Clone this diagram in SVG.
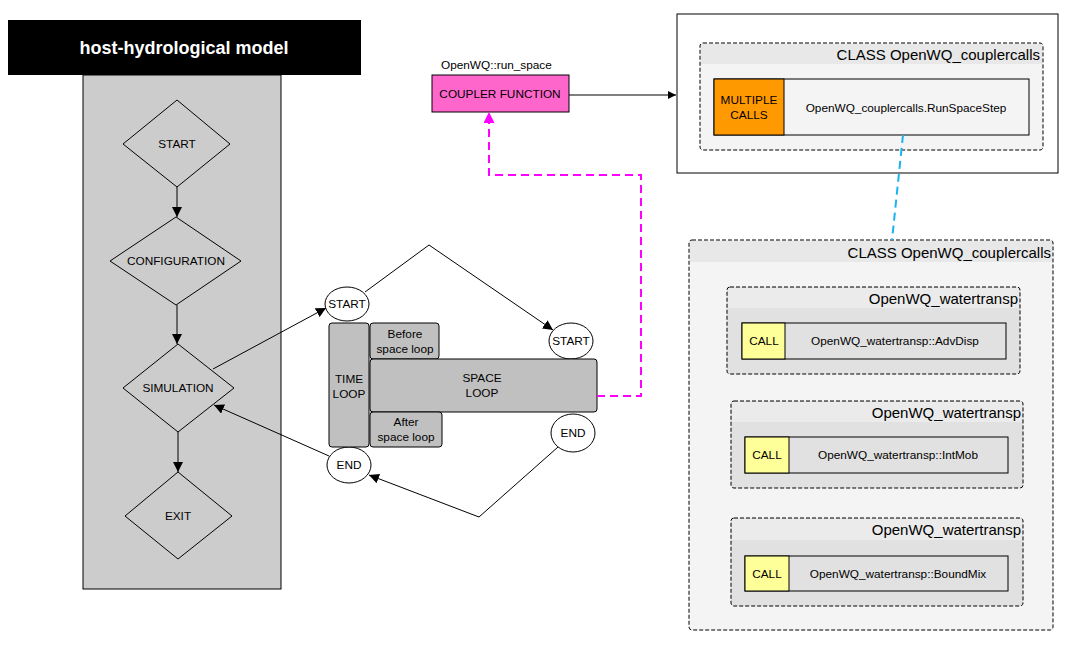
<svg xmlns="http://www.w3.org/2000/svg" width="1076" height="648" viewBox="0 0 1076 648">
<defs>
<marker id="ah" viewBox="0 0 10 10" refX="10" refY="5" markerWidth="10" markerHeight="10" markerUnits="userSpaceOnUse" orient="auto">
<path d="M0,0 L10,5 L0,10 z" fill="#000"/>
</marker>
<marker id="ahm" viewBox="0 0 10 10" refX="10" refY="5" markerWidth="11" markerHeight="11" markerUnits="userSpaceOnUse" orient="auto">
<path d="M0,0 L10,5 L0,10 z" fill="#ff00ff"/>
</marker>
<marker id="ahs" viewBox="0 0 10 10" refX="10" refY="5" markerWidth="8" markerHeight="8" markerUnits="userSpaceOnUse" orient="auto">
<path d="M0,0 L10,5 L0,10 z" fill="#000"/>
</marker>
</defs>
<style>
text{font-family:"Liberation Sans",Arial,sans-serif;fill:#000}
.s{font-size:11.8px}
.t{font-size:15px}
.c{text-anchor:middle}
.r{text-anchor:end}
.dia{fill:none;stroke:#000;stroke-width:1}
.ell{fill:#fff;stroke:#000;stroke-width:1}
.loop{fill:#c0c0c0;stroke:#000;stroke-width:1}
.dash{stroke:#000;stroke-width:1;stroke-dasharray:4,2}
.box{stroke:#000;stroke-width:1}
.ln{fill:none;stroke:#000;stroke-width:1}
</style>
<rect width="1076" height="648" fill="#fff"/>

<g id="host">
<rect x="83" y="75" width="198" height="514" fill="#cccccc" stroke="#000"/>
<rect x="8" y="20" width="353" height="55" fill="#000"/>
<text x="184" y="54" class="c" style="font-size:18px;font-weight:bold;fill:#fff">host-hydrological model</text>
</g>

<g id="d-start">
<polygon class="dia" points="177,100 230,144 177,187 123,144"/>
<text x="177" y="148" class="s c">START</text>
</g>
<g id="d-config">
<polygon class="dia" points="176,217 241,261 176,305 110,261"/>
<text x="176" y="265" class="s c">CONFIGURATION</text>
</g>
<g id="d-sim">
<polygon class="dia" points="178,344 234,388 178,432 123,388"/>
<text x="178" y="392" class="s c">SIMULATION</text>
</g>
<g id="d-exit">
<polygon class="dia" points="178,472 232,516 178,559 125,516"/>
<text x="178" y="520" class="s c">EXIT</text>
</g>

<g id="e-start1">
<ellipse class="ell" cx="347" cy="304" rx="22" ry="17"/>
<text x="347" y="308" class="s c">START</text>
</g>
<g id="e-end1">
<ellipse class="ell" cx="349" cy="465" rx="22" ry="18"/>
<text x="349" y="469" class="s c">END</text>
</g>
<g id="e-start2">
<ellipse class="ell" cx="571" cy="341" rx="22" ry="18"/>
<text x="571" y="345" class="s c">START</text>
</g>
<g id="e-end2">
<ellipse class="ell" cx="573" cy="433" rx="22" ry="19"/>
<text x="573" y="437" class="s c">END</text>
</g>

<g id="timeloop">
<rect class="loop" x="329" y="323" width="40" height="124" rx="3"/>
<text x="349" y="383" class="s c">TIME</text>
<text x="349" y="398" class="s c">LOOP</text>
</g>
<g id="before">
<rect class="loop" x="370" y="323" width="69" height="36" rx="3"/>
<text x="405" y="338" class="s c">Before</text>
<text x="405" y="353" class="s c">space loop</text>
</g>
<g id="spaceloop">
<rect class="loop" x="370" y="359" width="227" height="53" rx="3"/>
<text x="482" y="382" class="s c">SPACE</text>
<text x="482" y="397" class="s c">LOOP</text>
</g>
<g id="after">
<rect class="loop" x="370" y="412" width="72" height="35" rx="3"/>
<text x="406" y="426" class="s c">After</text>
<text x="406" y="441" class="s c">space loop</text>
</g>

<g id="coupler">
<text x="441" y="69" class="s">OpenWQ::run_space</text>
<rect class="box" x="432" y="75" width="137" height="37" fill="#ff66cc"/>
<text x="500" y="98" class="s c">COUPLER FUNCTION</text>
</g>

<g id="top-class">
<rect x="677" y="14" width="381" height="159" fill="#fff" stroke="#000"/>
<rect x="700" y="43" width="343" height="107" rx="3" fill="#f4f4f4"/>
<rect x="701" y="44" width="341" height="20" fill="#e8e8e8"/>
<rect class="dash" x="700" y="43" width="343" height="107" rx="3" fill="none"/>
<text x="1040" y="60" class="t r">CLASS OpenWQ_couplercalls</text>
<rect class="box" x="714" y="79" width="315" height="56" fill="#f4f4f4"/>
<rect class="box" x="714" y="79" width="70" height="56" fill="#ff9900"/>
<text x="749" y="104" class="s c">MULTIPLE</text>
<text x="749" y="119" class="s c">CALLS</text>
<text x="906" y="112" class="s c">OpenWQ_couplercalls.RunSpaceStep</text>
</g>

<g id="bottom-class">
<rect x="689" y="240" width="364" height="390" rx="3" fill="#f4f4f4"/>
<rect x="690" y="241" width="362" height="21" fill="#e8e8e8"/>
<rect class="dash" x="689" y="240" width="364" height="390" rx="3" fill="none"/>
<text x="1051" y="258" class="t r">CLASS OpenWQ_couplercalls</text>
</g>

<g id="wt1">
<rect x="727" y="287" width="293" height="87" rx="3" fill="#e1e1e1"/>
<rect x="728" y="288" width="291" height="20" fill="#ebebeb"/>
<rect class="dash" x="727" y="287" width="293" height="87" rx="3" fill="none"/>
<text x="1018" y="304" class="t r">OpenWQ_watertransp</text>
<rect class="box" x="742" y="323" width="264" height="36" fill="#e1e1e1"/>
<rect class="box" x="742" y="323" width="43" height="36" fill="#ffff99"/>
<text x="764" y="345" class="s c">CALL</text>
<text x="895" y="345" class="s c">OpenWQ_watertransp::AdvDisp</text>
</g>
<g id="wt2">
<rect x="731" y="401" width="292" height="87" rx="3" fill="#e1e1e1"/>
<rect x="732" y="402" width="290" height="20" fill="#ebebeb"/>
<rect class="dash" x="731" y="401" width="292" height="87" rx="3" fill="none"/>
<text x="1021" y="418" class="t r">OpenWQ_watertransp</text>
<rect class="box" x="745" y="437" width="263" height="36" fill="#e1e1e1"/>
<rect class="box" x="745" y="437" width="44" height="36" fill="#ffff99"/>
<text x="767" y="459" class="s c">CALL</text>
<text x="898" y="459" class="s c">OpenWQ_watertransp::IntMob</text>
</g>
<g id="wt3">
<rect x="731" y="518" width="292" height="88" rx="3" fill="#e1e1e1"/>
<rect x="732" y="519" width="290" height="21" fill="#ebebeb"/>
<rect class="dash" x="731" y="518" width="292" height="88" rx="3" fill="none"/>
<text x="1021" y="535" class="t r">OpenWQ_watertransp</text>
<rect class="box" x="745" y="556" width="263" height="35" fill="#e1e1e1"/>
<rect class="box" x="745" y="556" width="44" height="35" fill="#ffff99"/>
<text x="767" y="578" class="s c">CALL</text>
<text x="898" y="578" class="s c">OpenWQ_watertransp::BoundMix</text>
</g>

<g id="connectors">
<line class="ln" x1="177" y1="187" x2="177" y2="217" marker-end="url(#ah)"/>
<line class="ln" x1="177" y1="305" x2="177" y2="344" marker-end="url(#ah)"/>
<line class="ln" x1="178" y1="432" x2="178" y2="472" marker-end="url(#ah)"/>
<line class="ln" x1="213" y1="369" x2="326" y2="308" marker-end="url(#ah)"/>
<polyline class="ln" points="365,292 429,245 553,330" marker-end="url(#ah)"/>
<polyline class="ln" points="558,447 479,517 369,475" marker-end="url(#ah)"/>
<line class="ln" x1="329" y1="456" x2="214" y2="405" marker-end="url(#ah)"/>
<line class="ln" x1="569" y1="95" x2="676" y2="95" marker-end="url(#ahs)"/>
<polyline points="597,396 641,396 641,175 489,175 489,112" fill="none" stroke="#ff00ff" stroke-width="2" stroke-dasharray="8,5" marker-end="url(#ahm)"/>
<line x1="903" y1="135" x2="892" y2="240" stroke="#1ab2f0" stroke-width="2" stroke-dasharray="8,5"/>
</g>
</svg>
